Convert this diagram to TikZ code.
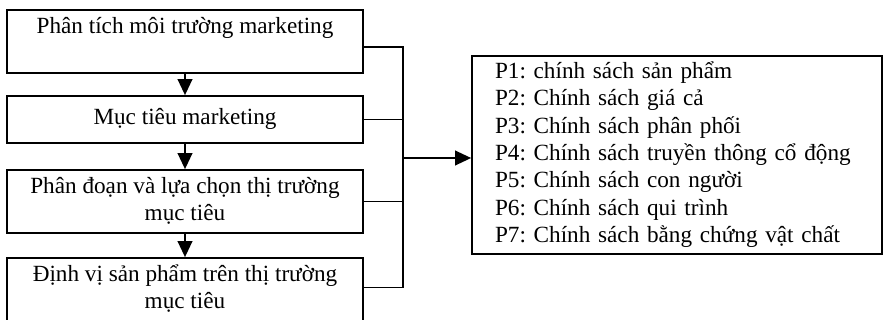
\documentclass[tikz,border=0pt]{standalone}
\usepackage{fontspec}
\setmainfont{Liberation Serif}
\usetikzlibrary{arrows.meta}
\frenchspacing
\begin{document}
\begin{tikzpicture}[x=0.75pt, y=-0.75pt,
    box/.style={draw, line width=1.3pt, minimum width=267pt, align=center,
        inner sep=0pt, font=\fontsize{17.4}{20.6}\selectfont},
    arr/.style={line width=1.3pt, -{Triangle[width=11pt,length=12pt]}},
    wire/.style={line width=1.3pt}]
        % Frame
        \clip (0,0) rectangle (896,320);

        % Steps
        \node[box, minimum height=47.25pt] (b1) at (185,41.5) {\strut Phân tích môi trường marketing\\\strut};
        \node[box, minimum height=35.25pt] (b2) at (185,119.5) {\strut Mục tiêu marketing};
        \node[box, minimum height=47.25pt] (b3) at (185,201.5) {\strut Phân đoạn và lựa chọn thị trường\\\strut mục tiêu};
        \node[box, minimum height=47.25pt] (b4) at (185,289.5) {\strut Định vị sản phẩm trên thị trường\\\strut mục tiêu};

        % Policies
        \node[box, minimum width=307.5pt, minimum height=148.5pt, text width=273pt,
            inner xsep=17.25pt, align=left] (pol) at (677,155) {%
            \strut P1: chính sách sản phẩm\\
            \strut P2: Chính sách giá cả\\
            \strut P3: Chính sách phân phối\\
            \strut P4: Chính sách truyền thông cổ động\\
            \strut P5: Chính sách con người\\
            \strut P6: Chính sách qui trình\\
            \strut P7: Chính sách bằng chứng vật chất};

        % Arrows between steps
        \draw[arr] (b1) -- (b2);
        \draw[arr] (b2) -- (b3);
        \draw[arr] (b3) -- (b4);

        % Bus to policies
        \coordinate (bus) at (403,158);
        \coordinate (t1) at ([yshift=-4pt]b1.east);
        \coordinate (t4) at ([yshift=1.5pt]b4.east);
        \draw[wire] (t1) -| (bus);
        \draw[wire] (t4) -| (bus);
        \draw[wire] (b2.east) -- (b2.east -| bus);
        \draw[wire] (b3.east) -- (b3.east -| bus);
        \draw[arr] (bus) -- (bus -| pol.west);
    \end{tikzpicture}
\end{document}
